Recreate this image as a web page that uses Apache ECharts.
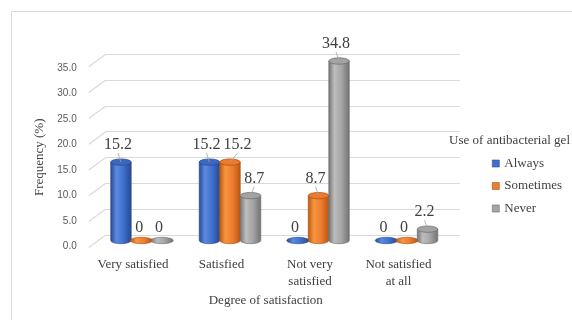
<!DOCTYPE html>
<html>
<head>
<meta charset="utf-8">
<script src="https://cdn.jsdelivr.net/npm/echarts@6/dist/echarts.min.js"></script>
<style>
html,body{margin:0;padding:0;background:#fff;}
#c{width:572px;height:320px;}
</style>
</head>
<body>
<div id="c"></div>
<script>
const categories = ['Very satisfied', 'Satisfied', 'Not very\nsatisfied', 'Not satisfied\nat all'];
const seriesNames = ['Always', 'Sometimes', 'Never'];
const always = [15.2, 15.2, 0, 0];
const sometimes = [0, 15.2, 8.7, 0];
const never = [0, 8.7, 34.8, 2.2];
const yTicks = [0, 5, 10, 15, 20, 25, 30, 35];
const legendTitle = 'Use of antibacterial gel';
const yTitle = 'Frequency (%)';
const xTitle = 'Degree of satisfaction';

const allValues = [always, sometimes, never];
const palettes = [
  {main:'#3f70cc', dark:'#24478e', light:'#5a8ae0', top:'#3a67c0', stroke:'#2a4a8a'},
  {main:'#ed7d31', dark:'#b9560f', light:'#f7963f', top:'#ee7a2b', stroke:'#a64d10'},
  {main:'#a5a5a5', dark:'#717171', light:'#bdbdbd', top:'#a3a3a3', stroke:'#6a6a6a'}
];
const SERIF = 'Liberation Serif';
const SANS = 'Liberation Sans';
const LABEL_FS = 16;

function grad(p){
  return {type:'linear', x:0, y:0, x2:1, y2:0, colorStops:[
    {offset:0, color:p.dark},{offset:0.28, color:p.light},{offset:0.62, color:p.main},{offset:1, color:p.dark}
  ]};
}
function textW(s){ let w=0; for(const ch of s){ w += (ch==='.')?LABEL_FS*0.25:LABEL_FS*0.5; } return w; }

function labelLayout(api, ci){
  const band = api.size([1,0])[0];
  const w = band*0.232;
  const res = [];
  for(let s=0;s<3;s++){
    const v = allValues[s][ci];
    const base = api.coord([ci,0]);
    const top = api.coord([ci,v]);
    const cx = base[0] + (s-1)*w;
    const txt = String(v);
    const tw = textW(txt);
    let lx = cx - 3;
    const ly = v>0 ? top[1]-17 : base[1]-12.5;
    if(s>0){
      const pr = res[s-1];
      if(Math.abs(pr.ly - ly) < 15){
        const needed = pr.lx + pr.tw/2 + 3 + tw/2;
        if(lx < needed) lx = needed;
      }
      if(pr.v > 0 && pr.top < ly + 8){
        const prRight = pr.cx + w/2;
        if(lx - tw/2 < prRight + 4) lx = prRight + 4 + tw/2;
      }
    }
    res.push({cx, lx, ly, tw, txt, top:top[1], base:base[1], w, v});
  }
  return res;
}

function makeSeries(si){
  const p = palettes[si];
  return {
    type:'custom', name:seriesNames[si], xAxisIndex:0, yAxisIndex:0,
    itemStyle:{color:p.main, borderColor:p.stroke, borderWidth:0.6},
    data: allValues[si].map((v,i)=>[i,v]),
    renderItem:function(params, api){
      const ci = api.value(0);
      const L = labelLayout(api, ci)[si];
      const rx = L.w/2, ry = 3.2;
      const l = L.cx - rx, r = L.cx + rx;
      const children = [];
      if(L.v > 0){
        const t = L.top, b = L.base;
        children.push({type:'path', shape:{pathData:
          `M${l},${t} L${l},${b} A${rx},${ry} 0 0 0 ${r},${b} L${r},${t} Z`},
          style:{fill:grad(p), stroke:p.stroke, lineWidth:0.6}});
        children.push({type:'path', shape:{pathData:
          `M${l},${t} A${rx},${ry} 0 0 0 ${r},${t} A${rx},${ry} 0 0 0 ${l},${t} Z`},
          style:{fill:p.top, stroke:p.stroke, lineWidth:0.7}});
        children.push({type:'line', shape:{x1:L.lx, y1:L.ly+8, x2:L.cx, y2:t},
          style:{stroke:'#a6a6a6', lineWidth:0.8}});
      } else {
        const b = L.base, rx2 = rx+1;
        children.push({type:'path', shape:{pathData:
          `M${L.cx-rx2},${b} A${rx2},${ry} 0 0 0 ${L.cx+rx2},${b} A${rx2},${ry} 0 0 0 ${L.cx-rx2},${b} Z`},
          style:{fill:grad(p), stroke:p.stroke, lineWidth:0.6}});
      }
      children.push({type:'text', style:{text:L.txt, x:L.lx, y:L.ly, align:'center', verticalAlign:'middle',
        fontFamily:SERIF, fontSize:LABEL_FS, fill:'#404040'}});
      return {type:'group', children};
    },
    z:5
  };
}

const chart = echarts.init(document.getElementById('c'), null, {renderer:'canvas'});
const option = {
  animation:false,
  backgroundColor:'#ffffff',
  grid:[
    {left:97.25, width:354, top:60, height:180.5},
    {left:105.75, width:354, top:54.3, height:180.6},
    {left:88.75, width:354, top:68, height:178.6}
  ],
  xAxis:[
    {type:'category', gridIndex:0, data:categories, show:false},
    {type:'value', gridIndex:1, min:0, max:1, show:false},
    {type:'category', gridIndex:2, data:categories,
      axisLine:{show:false}, axisTick:{show:false},
      axisLabel:{margin:9, fontFamily:SERIF, fontSize:13, color:'#404040', lineHeight:17, interval:0},
      name:xTitle, nameLocation:'middle', nameGap:43,
      nameTextStyle:{fontFamily:SERIF, fontSize:13, color:'#404040'}}
  ],
  yAxis:[
    {type:'value', gridIndex:0, min:0, max:35, interval:5, show:false},
    {type:'value', gridIndex:1, min:0, max:35, interval:5,
      axisLine:{show:false}, axisTick:{show:false}, axisLabel:{show:false},
      splitLine:{show:true, lineStyle:{color:'#d9d9d9', width:1.2}}},
    {type:'value', gridIndex:2, min:0, max:35, interval:5,
      axisLine:{show:false}, axisTick:{show:false}, splitLine:{show:false},
      axisLabel:{margin:12, fontFamily:SANS, fontSize:10, color:'#595959', formatter:v=>v.toFixed(1)},
      name:yTitle, nameLocation:'middle', nameGap:31,
      nameTextStyle:{fontFamily:SERIF, fontSize:13, color:'#404040'}}
  ],
  legend:{
    orient:'vertical', left:487, top:151, itemWidth:7, itemHeight:7, itemGap:7.5,
    icon:'rect', data:seriesNames, itemStyle:{borderWidth:0.6},
    textStyle:{fontFamily:SERIF, fontSize:13, color:'#404040', lineHeight:15}
  },
  graphic:[
    {type:'rect', shape:{x:11.5, y:11.5, width:700, height:500}, style:{fill:'none', stroke:'#d9d9d9', lineWidth:1}, silent:true, z:-10},
    {type:'text', right:2, top:134, style:{text:legendTitle, fontFamily:SERIF, fontSize:13, fill:'#404040'}}
  ],
  series:[
    {type:'custom', xAxisIndex:1, yAxisIndex:1, data:yTicks.map(v=>[0,v]), silent:true, z:1,
      renderItem:function(params, api){
        const p = api.coord([0, api.value(1)]);
        return {type:'line', shape:{x1:p[0], y1:p[1], x2:p[0]-17, y2:p[1]+12.5},
          style:{stroke:'#d9d9d9', lineWidth:1.2}};
      }},
    makeSeries(0), makeSeries(1), makeSeries(2)
  ]
};
chart.setOption(option);
</script>
</body>
</html>
